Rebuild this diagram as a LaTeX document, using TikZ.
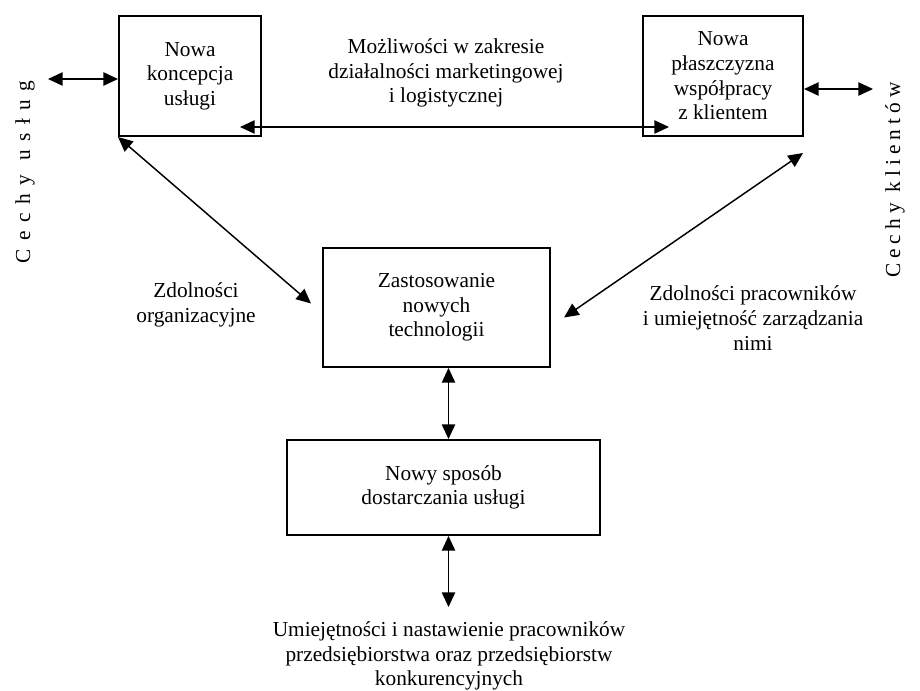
\documentclass[tikz,border=0pt]{standalone}
\usepackage{fontspec}
\setmainfont{Liberation Serif}
\newfontfamily\spacedfont[LetterSpace=40]{Liberation Serif}
\newfontfamily\narrowspaced[LetterSpace=24]{Liberation Serif}
\usetikzlibrary{arrows.meta}

\begin{document}
\begin{tikzpicture}[x=0.75pt,y=-0.75pt,>={Triangle[length=11pt,width=10pt]},
  every node/.style={font=\fontsize{16}{18.5}\selectfont,align=center},
  box/.style={draw,line width=1.5pt,inner sep=0pt},
  link/.style={<->,line width=1.1pt}]
  \useasboundingbox (0,0) rectangle (920,690);
  % boxes
  \node[box,minimum width=106.5pt,minimum height=90pt] (koncepcja) at (190,76) {Nowa\\koncepcja\\usługi};
  \node[box,minimum width=120pt,minimum height=90pt] (klient) at (723,76) {Nowa\\płaszczyzna\\współpracy\\z klientem};
  \node[box,minimum width=170.25pt,minimum height=89.25pt] (techn) at (436.5,307.5) {Zastosowanie\\nowych\\technologii};
  \node[box,minimum width=234.75pt,minimum height=71.25pt] (dostawa) at (443.5,487.5) {Nowy sposób\\dostarczania usługi};
  % labels
  \node (mozl) at (446,73) {Możliwości w zakresie\\działalności marketingowej\\i logistycznej};
  \node (zdorg) at (196,305) {Zdolności\\organizacyjne};
  \node (zdprac) at (753,318) {Zdolności pracowników\\i umiejętność zarządzania\\nimi};
  \node (umiej) at (449,656) {Umiejętności i nastawienie pracowników\\przedsiębiorstwa oraz przedsiębiorstw\\konkurencyjnych};
  \node[rotate=90,font=\spacedfont\fontsize{16}{18.5}\selectfont] (cusl) at (25,172) {Cechy usług};
  \node[rotate=90,font=\narrowspaced\fontsize{16}{18.5}\selectfont] (ckl) at (895,180) {Cechy klientów};
  % free ends
  \coordinate (lend) at (48,79);
  \coordinate (rend) at (873,89);
  \coordinate (dend) at (448.5,607);
  % arrows
  \draw[link] (lend) -- (koncepcja.west |- lend);
  \draw[link] (klient.east |- rend) -- (rend);
  \draw[link] ([shift={(-22,51)}]koncepcja.east) -- ([shift={(27,51)}]klient.west);
  \draw[link] (koncepcja.south west) -- ([shift={(-11,-4)}]techn.west);
  \draw[link] ([shift={(-1,16)}]klient.south east) -- ([shift={(13,10)}]techn.east);
  \draw[link] ([xshift=9pt]techn.south) -- ([xshift=3.75pt]dostawa.north);
  \draw[link] ([xshift=3.75pt]dostawa.south) -- (dend);
\end{tikzpicture}
\end{document}
